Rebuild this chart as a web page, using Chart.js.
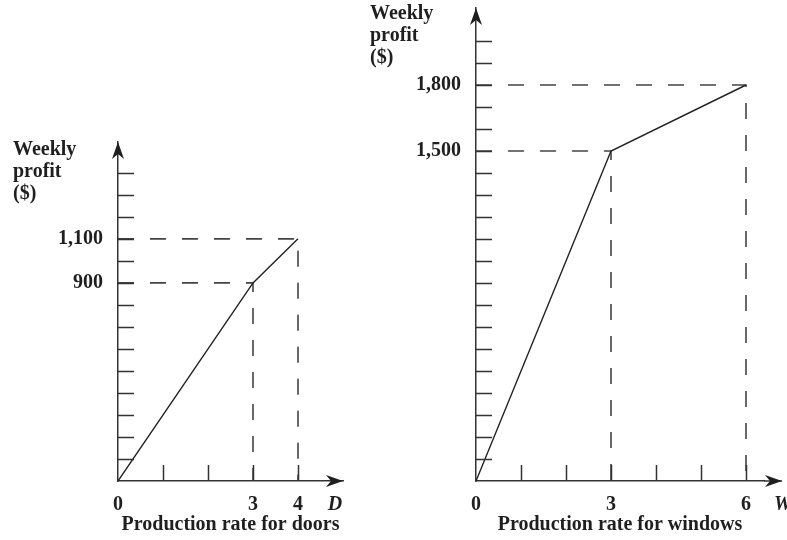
<!DOCTYPE html>
<html>
<head>
<meta charset="utf-8">
<title>Weekly profit vs production rate</title>
<script src="https://cdn.jsdelivr.net/npm/chart.js@4/dist/chart.umd.min.js"></script>
<style>
  body { margin: 0; background: #fff; }
  #wrap { position: relative; width: 787px; height: 540px; overflow: hidden; }
  #doors-chart { position: absolute; left: 0; top: 0; }
  #windows-chart { position: absolute; left: 360px; top: 0; }
</style>
</head>
<body>
<div id="wrap">
  <canvas id="doors-chart" width="360" height="540"></canvas>
  <canvas id="windows-chart" width="427" height="540"></canvas>
</div>
<script>
// data
var doorsRate = [0, 3, 4];
var doorsProfit = [0, 900, 1100];
var windowsRate = [0, 3, 6];
var windowsProfit = [0, 1500, 1800];

// labelled ticks
var doorsXLabels = [0, 3, 4];
var doorsYLabels = [900, 1100];
var windowsXLabels = [0, 3, 6];
var windowsYLabels = [1500, 1800];

// small tick marks along the axes
var doorsXTicks = [1, 2, 3, 4];
var doorsYTicks = [100, 200, 300, 400, 500, 600, 700, 800, 900, 1000, 1100, 1200, 1300, 1400];
var windowsXTicks = [1, 2, 3, 4, 5, 6];
var windowsYTicks = [100, 200, 300, 400, 500, 600, 700, 800, 900, 1000, 1100, 1200, 1300, 1400, 1500, 1600, 1700, 1800, 1900, 2000];

var serif = '"Liberation Serif", "Times New Roman", serif';
var ink = '#1f1f1f';

function arrowHead(ctx, x, y, dir) {
  ctx.save();
  ctx.translate(x, y);
  if (dir === 'right') ctx.rotate(Math.PI / 2);
  ctx.beginPath();
  ctx.moveTo(0, 0);
  ctx.lineTo(-6, 17);
  ctx.lineTo(0, 12);
  ctx.lineTo(6, 17);
  ctx.closePath();
  ctx.fill();
  ctx.restore();
}

// tick marks inside the axes, arrows, the axis letter and the "Weekly profit" note
var axisDecor = {
  id: 'axisDecor',
  afterDraw: function(chart, args, opts) {
    var ctx = chart.ctx;
    var a = chart.chartArea;
    var x = chart.scales.x;
    var y = chart.scales.y;
    var tipX = x.getPixelForValue(opts.xArrow);
    ctx.save();
    ctx.strokeStyle = '#333';
    ctx.lineWidth = 1.5;
    ctx.beginPath();
    // x axis runs on past the last value to the arrow
    ctx.moveTo(a.right, a.bottom);
    ctx.lineTo(tipX, a.bottom);
    opts.yTicks.forEach(function(v) {
      var py = Math.round(y.getPixelForValue(v)) + 0.5;
      ctx.moveTo(a.left, py);
      ctx.lineTo(a.left + 16, py);
    });
    opts.xTicks.forEach(function(v) {
      var px = Math.round(x.getPixelForValue(v)) + 0.5;
      ctx.moveTo(px, a.bottom);
      ctx.lineTo(px, a.bottom - 16);
    });
    ctx.stroke();

    ctx.fillStyle = ink;
    arrowHead(ctx, a.left, a.top, 'up');
    arrowHead(ctx, tipX, a.bottom, 'right');

    ctx.font = 'italic bold 20px ' + serif;
    ctx.textAlign = 'center';
    ctx.textBaseline = 'alphabetic';
    ctx.fillText(opts.letter, x.getPixelForValue(opts.letterAt), 510);

    ctx.font = 'bold 20px ' + serif;
    ctx.textAlign = 'left';
    opts.note.forEach(function(line, i) {
      ctx.fillText(line, opts.noteX, opts.noteY + i * 22);
    });
    ctx.restore();
  }
};

function makeChart(el, cfg) {
  var datasets = [{
    data: cfg.rate.map(function(r, i) { return {x: r, y: cfg.profit[i]}; }),
    showLine: true,
    borderColor: '#222',
    borderWidth: 1.4,
    pointRadius: 0
  }];
  // dashed guides from each break point back to both axes
  for (var i = 1; i < cfg.rate.length; i++) {
    datasets.push({
      data: [{x: 0, y: cfg.profit[i]}, {x: cfg.rate[i], y: cfg.profit[i]}, {x: cfg.rate[i], y: 0}],
      showLine: true,
      borderColor: '#444',
      borderWidth: 1.6,
      borderDash: [16, 16],
      pointRadius: 0,
      clip: 4
    });
  }

  return new Chart(el, {
    type: 'scatter',
    data: { datasets: datasets },
    plugins: [axisDecor],
    options: {
      responsive: false,
      animation: false,
      layout: { padding: cfg.padding },
      plugins: {
        legend: { display: false },
        tooltip: { enabled: false },
        axisDecor: {
          xTicks: cfg.xTicks,
          yTicks: cfg.yTicks,
          xArrow: cfg.xArrow,
          letter: cfg.letter,
          letterAt: cfg.letterAt,
          note: ['Weekly', 'profit', '($)'],
          noteX: cfg.noteX,
          noteY: cfg.noteY
        }
      },
      scales: {
        x: {
          type: 'linear',
          min: 0,
          max: cfg.xMax,
          grid: { display: false, drawTicks: false },
          border: { color: '#333', width: 1.5 },
          afterBuildTicks: function(scale) {
            scale.ticks = cfg.xLabels.map(function(v) { return {value: v}; });
          },
          afterFit: function(scale) {
            scale.height = 59;
            scale.paddingLeft = 0;
            scale.paddingRight = 0;
          },
          ticks: {
            autoSkip: false,
            maxRotation: 0,
            padding: 12,
            color: ink,
            font: { family: serif, size: 20, weight: 'bold' }
          },
          title: {
            display: true,
            text: cfg.xTitle,
            color: ink,
            padding: { top: 0, bottom: 3 },
            font: { family: serif, size: 20, weight: 'bold' }
          }
        },
        y: {
          type: 'linear',
          min: 0,
          max: cfg.yMax,
          grid: { display: false, drawTicks: false },
          border: { color: '#333', width: 1.5 },
          afterBuildTicks: function(scale) {
            scale.ticks = cfg.yLabels.map(function(v) { return {value: v}; });
          },
          afterFit: function(scale) {
            scale.width = cfg.yWidth;
            // labels sit well inside the axis, no need to pad the ends
            scale.paddingTop = 0;
            scale.paddingBottom = 0;
          },
          ticks: {
            padding: 15,
            color: ink,
            font: { family: serif, size: 20, weight: 'bold' },
            callback: function(v) { return v.toLocaleString('en-US'); }
          }
        }
      }
    }
  });
}

makeChart(document.getElementById('doors-chart'), {
  rate: doorsRate,
  profit: doorsProfit,
  xLabels: doorsXLabels,
  yLabels: doorsYLabels,
  xTicks: doorsXTicks,
  yTicks: doorsYTicks,
  xMax: 5,
  xArrow: 5,
  yMax: 1540,
  yWidth: 118,
  padding: { top: 142, right: 17, bottom: 0, left: 0 },
  xTitle: 'Production rate for doors',
  letter: 'D',
  letterAt: 4.82,
  noteX: 13,
  noteY: 155
});

makeChart(document.getElementById('windows-chart'), {
  rate: windowsRate,
  profit: windowsProfit,
  xLabels: windowsXLabels,
  yLabels: windowsYLabels,
  xTicks: windowsXTicks,
  yTicks: windowsYTicks,
  xMax: 6.4,
  xArrow: 6.8,
  yMax: 2150,
  yWidth: 116,
  padding: { top: 8, right: 23, bottom: 0, left: 0 },
  xTitle: 'Production rate for windows',
  letter: 'W',
  letterAt: 6.82,
  noteX: 10,
  noteY: 19
});
</script>
</body>
</html>
